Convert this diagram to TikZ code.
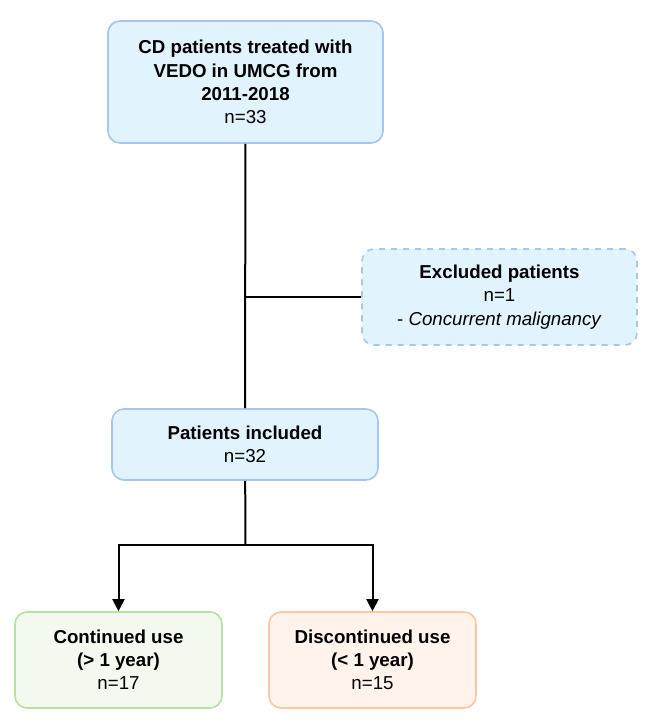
\documentclass[tikz,border=0pt]{standalone}
\usepackage{fontspec}
\setmainfont{Liberation Sans}
\usetikzlibrary{arrows.meta}

\definecolor{bluefill}{HTML}{E1F4FD}
\definecolor{blueline}{HTML}{A6C6EF}
\definecolor{greenfill}{HTML}{F3F9EE}
\definecolor{greenline}{HTML}{B9E0A5}
\definecolor{orangefill}{HTML}{FFF3EC}
\definecolor{orangeline}{HTML}{FDC6A4}

\begin{document}
\begin{tikzpicture}[x=0.5pt,y=-0.5pt,
  box/.style={draw=blueline,fill=bluefill,line width=0.8pt,rounded corners=6pt,
    align=center,inner sep=0pt,font=\fontsize{9.35}{11.6}\selectfont},
  link/.style={line width=1pt,black},
  arrow/.style={link,-{Triangle[length=6pt,width=6pt]}}]
  \useasboundingbox (0,0) rectangle (647,724);

  \node[box,minimum width=137.5pt,minimum height=61pt] (cd) at (245.5,82)
    {\textbf{CD patients treated with}\\\textbf{VEDO in UMCG from}\\\textbf{2011-2018}\\n=33};
  \node[box,dashed,minimum width=137.5pt,minimum height=48pt] (excl) at (499.5,297)
    {\textbf{Excluded patients}\\n=1\\- \textit{Concurrent malignancy}};
  \node[box,minimum width=133pt,minimum height=35.5pt] (incl) at (245,444.5)
    {\textbf{Patients included}\\n=32};
  \node[box,draw=greenline,fill=greenfill,minimum width=103.5pt,minimum height=48pt] (cont) at (118.5,660)
    {\textbf{Continued use}\\\textbf{(> 1 year)}\\n=17};
  \node[box,draw=orangeline,fill=orangefill,minimum width=103.5pt,minimum height=48pt] (disc) at (372.5,660)
    {\textbf{Discontinued use}\\\textbf{(< 1 year)}\\n=15};

  \coordinate (excljoin) at (245.5,297);
  \coordinate (split) at (245.5,545);

  \draw[link] (cd) -- (incl);
  \draw[link] (excljoin) -- (excl);
  \draw[link] (incl) -- (split);
  \draw[arrow] (split) -| (cont);
  \draw[arrow] (split) -| (disc);
\end{tikzpicture}
\end{document}
